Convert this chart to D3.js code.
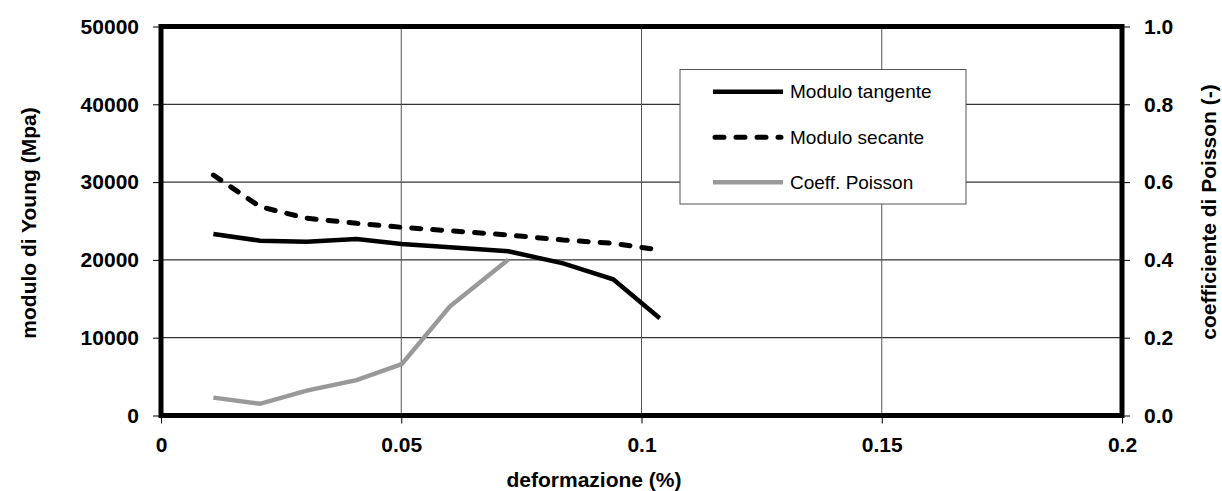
<!DOCTYPE html>
<html><head><meta charset="utf-8">
<script src="https://cdn.jsdelivr.net/npm/d3@7"></script>
<style>body{margin:0;background:#fff}svg{display:block}text{font-family:"Liberation Sans",Arial,sans-serif}</style>
</head><body><svg id="c" width="1222" height="491"></svg>
<script>
const deformazione = [0.0109, 0.0206, 0.0303, 0.0407, 0.0501, 0.0601, 0.0723, 0.0837, 0.0941, 0.1038];
const moduloTangente = [23330, 22470, 22340, 22690, 22040, 21620, 21100, 19560, 17500, 12490];
const moduloSecante = [30910, 26840, 25350, 24700, 24190, 23750, 23200, 22560, 22130, 21270];
const deformazionePoisson = [0.0109, 0.0206, 0.0303, 0.0407, 0.0501, 0.0601, 0.0723];
const coeffPoisson = [0.046, 0.030, 0.064, 0.091, 0.132, 0.280, 0.401];
const xTicks = [0, 0.05, 0.1, 0.15, 0.2];
const yTicks = [0, 10000, 20000, 30000, 40000, 50000];
const y2Ticks = [0, 0.2, 0.4, 0.6, 0.8, 1.0];
const seriesNames = ["Modulo tangente", "Modulo secante", "Coeff. Poisson"];

const svg = d3.select("#c");
const L = 161, R = 1122, T = 26.5, B = 415.5;
const x = d3.scaleLinear().domain([0, 0.2]).range([L, R]);
const y = d3.scaleLinear().domain([0, 50000]).range([B, T]);
const y2 = d3.scaleLinear().domain([0, 1]).range([B, T]);

// grid
const g = svg.append("g");
g.selectAll("line.h").data(yTicks).join("line")
  .attr("x1", L).attr("x2", R).attr("y1", d => y(d)).attr("y2", d => y(d))
  .attr("stroke", "#000").attr("stroke-width", 1);
g.selectAll("line.v").data(xTicks).join("line")
  .attr("y1", T).attr("y2", B).attr("x1", d => x(d)).attr("x2", d => x(d))
  .attr("stroke", "#555").attr("stroke-width", 1);

// axes
const fontTick = "21px";
const ax = svg.append("g").attr("transform", `translate(0,${B})`)
  .call(d3.axisBottom(x).tickValues(xTicks).tickFormat(d => d === 0 ? "0" : String(d)).tickSize(8).tickPadding(14));
const ay = svg.append("g").attr("transform", `translate(${L},0)`)
  .call(d3.axisLeft(y).tickValues(yTicks).tickFormat(d => String(d)).tickSize(8).tickPadding(14));
const ay2 = svg.append("g").attr("transform", `translate(${R},0)`)
  .call(d3.axisRight(y2).tickValues(y2Ticks).tickFormat(d3.format(".1f")).tickSize(8).tickPadding(14));
[ax, ay, ay2].forEach(a => {
  a.select(".domain").remove();
  a.selectAll(".tick line").attr("stroke", "#000").attr("stroke-width", 1);
  a.selectAll(".tick text").attr("fill", "#000").style("font-size", fontTick).style("font-weight", "bold")
    .style("font-family", '"Liberation Sans", Arial, sans-serif');
});
ax.selectAll(".tick text").attr("dy", "0.71em");

// frame
svg.append("rect").attr("x", L).attr("y", T).attr("width", R - L).attr("height", B - T)
  .attr("fill", "none").attr("stroke", "#000").attr("stroke-width", 5);

// series
const line = d3.line().x(d => x(d[0])).y(d => y(d[1]));
const line2 = d3.line().x(d => x(d[0])).y(d => y2(d[1]));
svg.append("path").datum(deformazionePoisson.map((d, i) => [d, coeffPoisson[i]]))
  .attr("d", line2).attr("fill", "none").attr("stroke", "#999").attr("stroke-width", 4.5);
svg.append("path").datum(deformazione.map((d, i) => [d, moduloSecante[i]]))
  .attr("d", line).attr("fill", "none").attr("stroke", "#000").attr("stroke-width", 5)
  .attr("stroke-dasharray", "9,12").attr("stroke-linecap", "round");
svg.append("path").datum(deformazione.map((d, i) => [d, moduloTangente[i]]))
  .attr("d", line).attr("fill", "none").attr("stroke", "#000").attr("stroke-width", 4.5);

// legend
const lg = svg.append("g");
lg.append("rect").attr("x", 680).attr("y", 69.5).attr("width", 286).attr("height", 134.5)
  .attr("fill", "#fff").attr("stroke", "#555").attr("stroke-width", 1);
const styles = [
  {stroke: "#000", w: 4.5, dash: null, cap: "butt"},
  {stroke: "#000", w: 5, dash: "9,12", cap: "round"},
  {stroke: "#999", w: 4.5, dash: null, cap: "butt"}
];
const rowY = [91.7, 137.3, 182.3];
seriesNames.forEach((n, i) => {
  const s = styles[i];
  const ln = lg.append("line").attr("x1", i === 1 ? 715 : 713).attr("x2", i === 1 ? 781 : 783)
    .attr("y1", rowY[i]).attr("y2", rowY[i]).attr("stroke", s.stroke).attr("stroke-width", s.w)
    .attr("stroke-linecap", s.cap);
  if (s.dash) ln.attr("stroke-dasharray", s.dash);
  lg.append("text").attr("x", 790).attr("y", rowY[i]).attr("dy", "0.35em")
    .style("font-size", "19px").attr("fill", "#000").text(n);
});

// titles
svg.append("text").attr("x", 594).attr("y", 487).attr("text-anchor", "middle")
  .style("font-size", "21px").style("font-weight", "bold").text("deformazione (%)");
svg.append("text").attr("transform", "translate(36,223) rotate(-90)").attr("text-anchor", "middle")
  .style("font-size", "21px").style("font-weight", "bold").text("modulo di Young (Mpa)");
svg.append("text").attr("transform", "translate(1216,212) rotate(-90)").attr("text-anchor", "middle")
  .style("font-size", "21px").style("font-weight", "bold").text("coefficiente di Poisson (-)");
</script></body></html>
